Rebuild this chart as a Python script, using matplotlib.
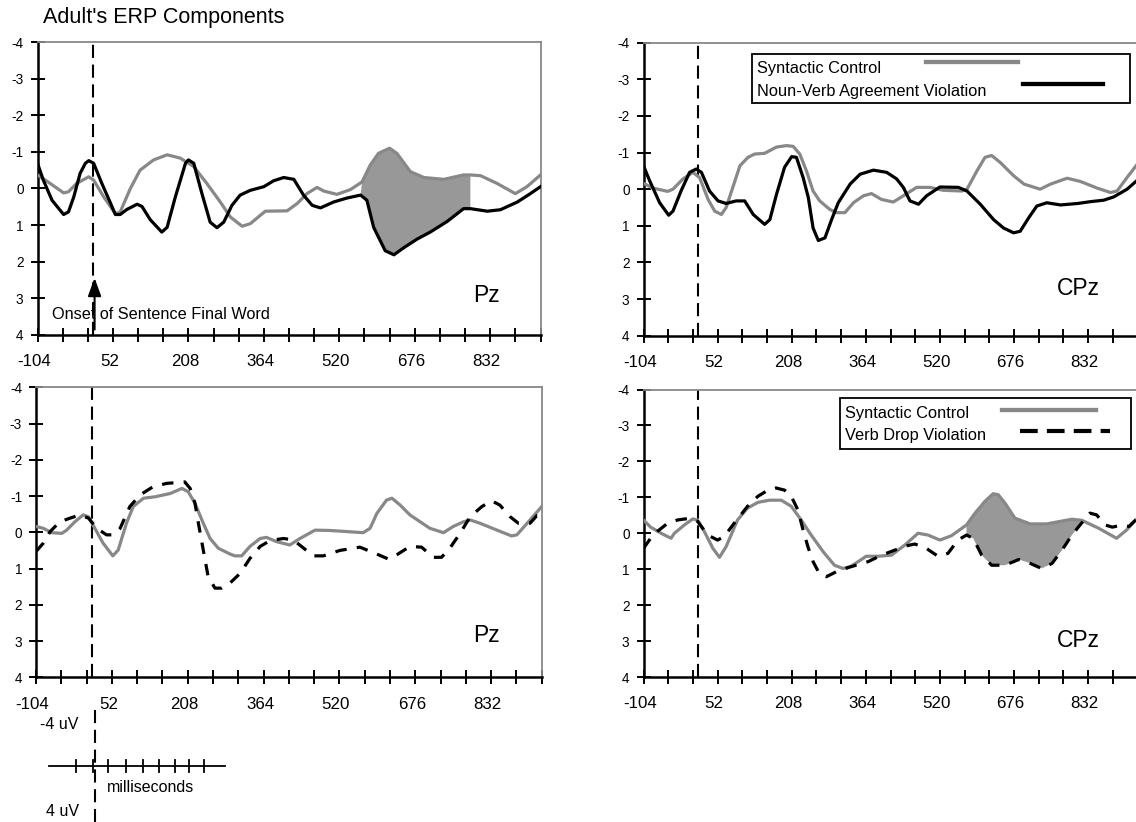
import numpy as np
import matplotlib
matplotlib.use('Agg')
import matplotlib.pyplot as plt
from matplotlib.patches import Rectangle
import matplotlib.transforms as mtransforms

plt.rcParams['font.family'] = ['Liberation Sans', 'DejaVu Sans']

# ---------------- data (ms, microvolts; negative plotted up) ----------------
# Top-left: Pz, Syntactic Control vs Noun-Verb Agreement Violation
pz_ctrl_a_t = [-104, -78, -50, -40, -23, 2, 12, 33, 57, 67, 88, 108, 136, 164, 191, 219, 246, 274, 295, 319,
               336, 367, 412, 433, 453, 474, 488, 515, 543, 567, 584, 601, 624, 639, 667, 695, 736, 777, 791, 812,
               846, 884, 908, 936]
pz_ctrl_a_v = [-0.37, -0.14, 0.12, 0.09, -0.14, -0.32, -0.23, 0.23, 0.69, 0.64, 0.0, -0.5, -0.78, -0.92, -0.83, -0.6, -0.14, 0.37, 0.78, 1.03,
               0.96, 0.62, 0.61, 0.41, 0.14, -0.03, 0.07, 0.16, 0.03, -0.18, -0.64, -0.96, -1.1, -0.96, -0.46, -0.3, -0.25, -0.37, -0.37, -0.35,
               -0.14, 0.14, -0.05, -0.37]
pz_nv_t = [-104, -92, -74, -50, -40, -29, -16, -5, 2, 12, 29, 46, 57, 67, 81, 102, 112, 129, 153, 164,
           181, 202, 208, 219, 236, 253, 267, 281, 298, 315, 336, 364, 384, 405, 426, 446, 464, 481, 508, 536,
           564, 577, 591, 615, 633, 653, 681, 708, 743, 777, 791, 826, 853, 888, 915, 936]
pz_nv_v = [-0.69, -0.23, 0.32, 0.71, 0.64, 0.23, -0.41, -0.69, -0.76, -0.69, -0.14, 0.37, 0.71, 0.71, 0.57, 0.43, 0.49, 0.85, 1.19, 1.06,
           0.23, -0.69, -0.78, -0.69, 0.14, 0.92, 1.07, 0.92, 0.46, 0.18, 0.05, -0.05, -0.21, -0.3, -0.25, 0.18, 0.46, 0.53, 0.37, 0.26,
           0.18, 0.32, 1.06, 1.7, 1.81, 1.62, 1.38, 1.19, 0.9, 0.55, 0.55, 0.62, 0.58, 0.37, 0.14, -0.05]

# Top-right: CPz, Syntactic Control vs Noun-Verb Agreement Violation
cpz_ctrl_a_t = [-104, -84, -53, -42, -21, 0, 14, 32, 46, 60, 70, 84, 99, 116, 130, 151, 176, 197, 211, 225,
                239, 253, 267, 288, 302, 320, 338, 359, 376, 397, 422, 443, 471, 499, 527, 566, 577, 598, 615, 629,
                647, 675, 697, 731, 753, 788, 816, 851, 879, 893, 914, 936]
cpz_ctrl_a_v = [-0.16, -0.03, 0.06, 0.0, -0.28, -0.46, -0.32, 0.28, 0.6, 0.69, 0.5, -0.05, -0.64, -0.87, -0.96, -0.98, -1.15, -1.19, -1.17, -0.96,
                -0.5, 0.05, 0.32, 0.55, 0.64, 0.64, 0.37, 0.18, 0.12, 0.28, 0.35, 0.18, -0.05, -0.05, 0.03, 0.05, 0.0, -0.5, -0.87, -0.92,
                -0.73, -0.37, -0.14, 0.0, -0.14, -0.3, -0.21, -0.03, 0.09, 0.05, -0.32, -0.69]
cpz_nv_t = [-104, -91, -70, -51, -42, -25, -7, 7, 18, 35, 53, 70, 91, 109, 127, 151, 162, 176, 193, 208,
            218, 232, 243, 253, 264, 278, 292, 306, 331, 352, 380, 408, 429, 443, 457, 475, 492, 520, 559, 577,
            605, 633, 654, 675, 689, 707, 724, 745, 774, 810, 837, 865, 886, 914, 936]
cpz_nv_v = [-0.64, -0.23, 0.37, 0.71, 0.6, 0.05, -0.46, -0.55, -0.46, 0.05, 0.32, 0.39, 0.32, 0.32, 0.69, 0.96, 0.83, 0.14, -0.6, -0.89,
            -0.87, -0.32, 0.23, 1.06, 1.4, 1.33, 0.83, 0.37, -0.14, -0.41, -0.52, -0.46, -0.28, -0.05, 0.32, 0.41, 0.18, -0.06, -0.05, 0.05,
            0.41, 0.83, 1.06, 1.19, 1.15, 0.78, 0.46, 0.37, 0.43, 0.39, 0.34, 0.3, 0.21, 0.0, -0.25]

# Bottom-left: Pz, Syntactic Control vs Verb Drop Violation
pz_ctrl_b_t = [-104, -89, -72, -51, -41, -24, -7, 4, 17, 34, 54, 65, 82, 96, 117, 141, 172, 196, 209, 223,
               240, 254, 271, 295, 305, 319, 336, 357, 370, 391, 418, 439, 470, 501, 535, 569, 583, 597, 617, 628,
               645, 665, 686, 706, 734, 754, 775, 789, 809, 844, 874, 885, 912, 936]
pz_ctrl_b_v = [-0.16, -0.11, 0.01, 0.03, -0.06, -0.29, -0.48, -0.43, -0.11, 0.3, 0.65, 0.49, -0.25, -0.71, -0.94, -0.98, -1.07, -1.21, -1.12, -0.8,
               -0.25, 0.17, 0.44, 0.6, 0.65, 0.65, 0.39, 0.17, 0.14, 0.26, 0.35, 0.17, -0.06, -0.05, -0.02, 0.01, -0.11, -0.52, -0.89, -0.94,
               -0.75, -0.48, -0.29, -0.11, 0.01, -0.16, -0.29, -0.34, -0.25, -0.06, 0.1, 0.07, -0.34, -0.71]
pz_vd_t = [-104, -89, -75, -55, -34, -14, 4, 21, 41, 55, 69, 89, 110, 137, 165, 185, 202, 213, 223, 230,
           240, 250, 264, 278, 295, 316, 336, 357, 377, 405, 425, 442, 466, 487, 521, 562, 590, 621, 638, 665,
           689, 713, 730, 747, 768, 789, 813, 833, 850, 871, 888, 912, 926, 936]
pz_vd_v = [0.53, 0.3, -0.02, -0.29, -0.39, -0.48, -0.39, -0.11, 0.07, 0.07, -0.11, -0.71, -1.03, -1.26, -1.35, -1.37, -1.39, -1.21, -0.8, -0.25,
           0.49, 1.22, 1.54, 1.54, 1.4, 1.13, 0.72, 0.39, 0.23, 0.17, 0.21, 0.39, 0.65, 0.65, 0.5, 0.41, 0.56, 0.74, 0.62, 0.39,
           0.41, 0.69, 0.69, 0.44, 0.03, -0.43, -0.71, -0.87, -0.75, -0.43, -0.25, -0.25, -0.46, -0.46]

# Bottom-right: CPz, Syntactic Control vs Verb Drop Violation
cpz_ctrl_b_t = [-104, -89, -67, -46, -39, -18, 0, 10, 24, 42, 56, 70, 94, 115, 137, 161, 186, 207, 228, 249,
                274, 298, 316, 333, 365, 390, 418, 446, 474, 495, 520, 544, 576, 594, 615, 632, 643, 657, 678, 710,
                745, 773, 798, 819, 854, 892, 913, 936]
cpz_ctrl_b_v = [-0.37, -0.17, 0.0, 0.14, 0.0, -0.23, -0.4, -0.36, -0.05, 0.42, 0.67, 0.37, -0.37, -0.7, -0.86, -0.92, -0.92, -0.75, -0.37, 0.05,
                0.51, 0.89, 0.98, 0.92, 0.64, 0.64, 0.61, 0.33, 0.0, 0.05, 0.19, 0.07, -0.23, -0.56, -0.89, -1.1, -1.07, -0.84, -0.42, -0.26,
                -0.26, -0.33, -0.39, -0.36, -0.14, 0.14, -0.09, -0.42]
cpz_vd_t = [-104, -89, -75, -53, -32, -4, 10, 31, 52, 66, 87, 115, 137, 158, 175, 193, 207, 221, 231, 242,
            253, 267, 281, 305, 333, 369, 397, 425, 446, 467, 488, 516, 537, 558, 576, 590, 608, 629, 657, 686,
            707, 734, 756, 777, 798, 815, 836, 850, 868, 883, 904, 918, 936]
cpz_vd_v = [0.42, 0.14, -0.05, -0.28, -0.37, -0.42, -0.33, 0.05, 0.19, 0.09, -0.28, -0.75, -1.03, -1.2, -1.26, -1.2, -1.03, -0.65, -0.14, 0.37,
            0.79, 1.14, 1.21, 1.05, 0.93, 0.79, 0.61, 0.47, 0.36, 0.3, 0.39, 0.64, 0.56, 0.19, 0.05, 0.14, 0.61, 0.89, 0.89, 0.73,
            0.82, 0.98, 0.84, 0.47, 0.05, -0.23, -0.56, -0.51, -0.23, -0.17, -0.23, -0.19, -0.42]

# shaded windows (ms)
shade_pz_nv = (564, 792)
shade_cpz_vd = (576, 826)

xtick_vals = [-104 + 52 * i for i in range(21)]
xtick_labels = ['-104', '', '', '52', '', '', '208', '', '', '364', '', '', '520', '', '', '676', '', '', '832', '', '']
ytick_vals = [-4, -3, -2, -1, 0, 1, 2, 3, 4]
ytick_labels = ['-4', '-3', '-2', '-1', '0', '1', '2', '3', '4']
onset_ms = 11

title = "Adult's ERP Components"
ctrl_label = 'Syntactic Control'
nv_label = 'Noun-Verb Agreement Violation'
vd_label = 'Verb Drop Violation'
scale_ticks_px = [76, 93, 108.3, 126, 142.7, 159.3, 175, 189.3, 204]

# ---------------- figure ----------------
W, H = 1136, 822
fig = plt.figure(figsize=(W / 100, H / 100), dpi=100)
GRAY = '#888888'
FILL = '#989898'
LW = 2.3
DASH = (3.6, 3.2)


def px_axes(l, r, t, b):
    return fig.add_axes([l / W, 1 - b / H, (r - l) / W, (b - t) / H])


def style(ax):
    ax.set_xlim(-104, 936)
    ax.set_ylim(4, -4)
    ax.set_xticks(xtick_vals)
    ax.set_xticklabels(xtick_labels, fontsize=12.2)
    ax.set_yticks(ytick_vals)
    ax.set_yticklabels(ytick_labels, fontsize=9.8)
    ax.tick_params(axis='both', direction='inout', length=10, width=1.4, color='black')
    ax.tick_params(axis='x', pad=9)
    ax.tick_params(axis='y', pad=5)
    for s in ['left', 'bottom']:
        ax.spines[s].set_color('black')
        ax.spines[s].set_linewidth(1.8)
    for s in ['top', 'right']:
        ax.spines[s].set_color(GRAY)
        ax.spines[s].set_linewidth(1.3)
    offset = mtransforms.ScaledTranslation(-3.5 / 100, 0, fig.dpi_scale_trans)
    for lab in ax.get_xticklabels():
        lab.set_transform(lab.get_transform() + offset)
    ax.axvline(onset_ms, color='black', lw=1.5, dashes=(6.3, 3.2), zorder=1)


def shade(ax, t1, v1, t2, v2, rng):
    t1 = np.asarray(t1); v1 = np.asarray(v1)
    t2 = np.asarray(t2); v2 = np.asarray(v2)
    m1 = (t1 >= rng[0]) & (t1 <= rng[1])
    m2 = (t2 >= rng[0]) & (t2 <= rng[1])
    xs = np.concatenate([t1[m1], t2[m2][::-1]])
    ys = np.concatenate([v1[m1], v2[m2][::-1]])
    ax.fill(xs, ys, color=FILL, lw=0, zorder=2)


ax1 = px_axes(37.5, 540.5, 42, 335)
ax2 = px_axes(643.5, 1137.5, 42.7, 335.7)
ax3 = px_axes(36, 541.7, 387.3, 677.3)
ax4 = px_axes(643.5, 1137.5, 389.5, 677)
for ax in (ax1, ax2, ax3, ax4):
    style(ax)

# top-left
shade(ax1, pz_ctrl_a_t, pz_ctrl_a_v, pz_nv_t, pz_nv_v, shade_pz_nv)
ax1.plot(pz_ctrl_a_t, pz_ctrl_a_v, color=GRAY, lw=LW, zorder=3)
ax1.plot(pz_nv_t, pz_nv_v, color='black', lw=LW, zorder=4)
ax1.text(-74.6, 3.55, 'Onset of Sentence Final Word', fontsize=11.7, va='baseline', ha='left')
ax1.annotate('', xy=(onset_ms + 3, 2.44), xytext=(onset_ms + 3, 3.85),
             arrowprops=dict(arrowstyle='-|>,head_length=11,head_width=4', mutation_scale=1,
                             color='black', lw=1.5, shrinkA=0, shrinkB=0))

# top-right
ax2.plot(cpz_ctrl_a_t, cpz_ctrl_a_v, color=GRAY, lw=LW, zorder=3)
ax2.plot(cpz_nv_t, cpz_nv_v, color='black', lw=LW, zorder=4)

# bottom-left
ax3.plot(pz_ctrl_b_t, pz_ctrl_b_v, color=GRAY, lw=LW, zorder=3)
ax3.plot(pz_vd_t, pz_vd_v, color='black', lw=LW, dashes=DASH, zorder=4)

# bottom-right
shade(ax4, cpz_ctrl_b_t, cpz_ctrl_b_v, cpz_vd_t, cpz_vd_v, shade_cpz_vd)
ax4.plot(cpz_ctrl_b_t, cpz_ctrl_b_v, color=GRAY, lw=LW, zorder=3)
ax4.plot(cpz_vd_t, cpz_vd_v, color='black', lw=LW, dashes=DASH, zorder=4)

# ---------------- overlay in pixel coordinates ----------------
ov = fig.add_axes([0, 0, 1, 1], zorder=10)
ov.set_xlim(0, W)
ov.set_ylim(H, 0)
ov.axis('off')
ov.patch.set_alpha(0)

ov.text(42.7, 23.5, title, fontsize=15.5, va='baseline', ha='left')
ov.text(473.5, 301.7, 'Pz', fontsize=16.5, va='baseline', ha='left')
ov.text(1057, 295, 'CPz', fontsize=16.5, va='baseline', ha='left')
ov.text(473, 642, 'Pz', fontsize=16.5, va='baseline', ha='left')
ov.text(1057, 647, 'CPz', fontsize=16.5, va='baseline', ha='left')

# legend top-right
ov.add_patch(Rectangle((752, 54), 377.6, 48.7, fill=True, facecolor='white', edgecolor='black', lw=1.3))
ov.text(757.3, 73.5, ctrl_label, fontsize=11.8, va='baseline', ha='left')
ov.text(757.3, 96, nv_label, fontsize=11.8, va='baseline', ha='left')
ov.plot([925.7, 1018], [62, 62], color=GRAY, lw=3.1)
ov.plot([1022.5, 1103], [84.3, 84.3], color='black', lw=3.1)

# legend bottom-right
ov.add_patch(Rectangle((839.6, 397.7), 291.8, 51.3, fill=True, facecolor='white', edgecolor='black', lw=1.3))
ov.text(845.2, 417.7, ctrl_label, fontsize=11.8, va='baseline', ha='left')
ov.text(845.2, 440, vd_label, fontsize=11.8, va='baseline', ha='left')
ov.plot([1002, 1096], [410, 410], color=GRAY, lw=3.1)
ov.plot([1019.7, 1110], [431, 431], color='black', lw=3.0, dashes=(4.25, 2.2))

# scale key bottom-left
ov.text(40, 729, '-4 uV', fontsize=11.5, va='baseline', ha='left')
ov.text(46, 816, '4 uV', fontsize=11.5, va='baseline', ha='left')
ov.text(107, 791.5, 'milliseconds', fontsize=11.5, va='baseline', ha='left')
ov.plot([95, 95], [710, 822], color='black', lw=1.5, dashes=(6.3, 3.2), clip_on=False)
ov.plot([49, 225], [765.7, 765.7], color='black', lw=1.3)
for xt in scale_ticks_px:
    ov.plot([xt, xt], [759.5, 772], color='black', lw=1.3)

fig.savefig('out.png', dpi=100)
